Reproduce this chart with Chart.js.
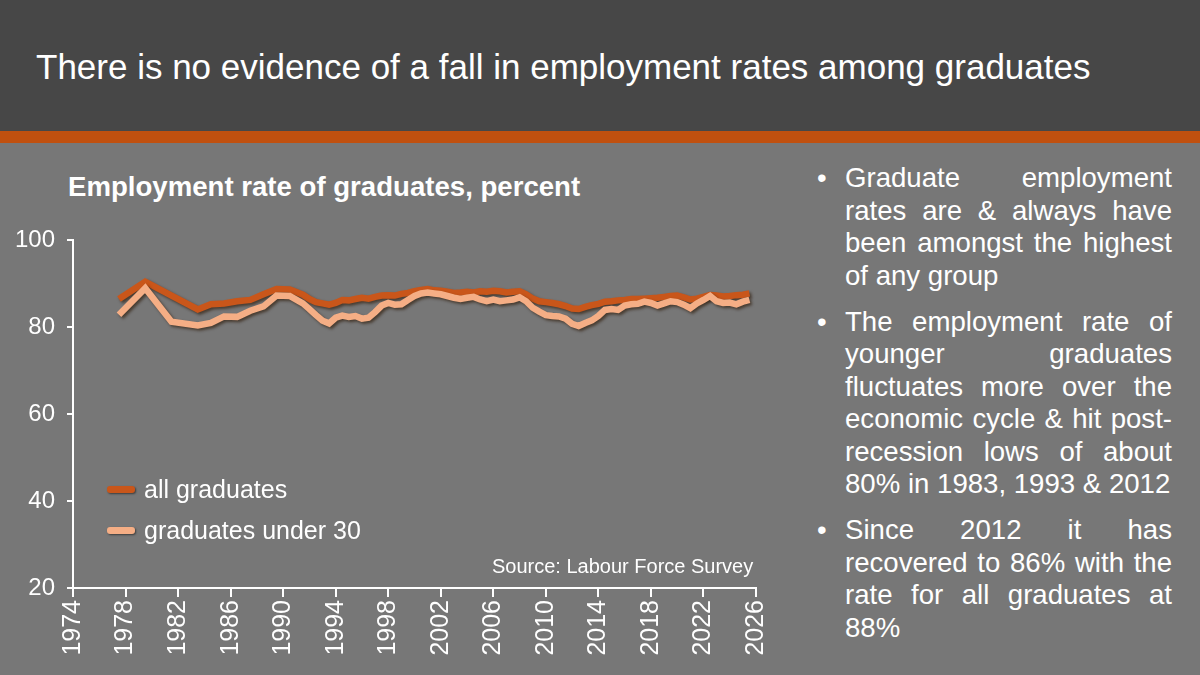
<!DOCTYPE html>
<html>
<head>
<meta charset="utf-8">
<script src="https://cdn.jsdelivr.net/npm/chart.js@4.4.1/dist/chart.umd.min.js"></script>
<style>
  body { margin: 0; width: 1200px; height: 675px; background: #777777; font-family: "Liberation Sans", Arial, sans-serif; overflow: hidden; position: relative; }
  #header { position: absolute; left: 0; top: 0; width: 1200px; height: 131px; background: #474747; }
  #band { position: absolute; left: 0; top: 131px; width: 1200px; height: 12px; background: #C0500F; }
  #title { position: absolute; left: 36px; top: 49px; color: #fff; font-size: 35px; line-height: 1; white-space: nowrap; }
  #ctitle { position: absolute; left: 68px; top: 173px; color: #fff; font-size: 27.6px; line-height: 1; font-weight: bold; white-space: nowrap; }
  #wrap { position: absolute; left: 0; top: 214px; width: 790px; height: 461px; }
  #legend { position: absolute; left: 107px; top: 469px; color: #fff; font-size: 25px; }
  #legend div { height: 41px; display: flex; align-items: center; }
  #legend span.sw { display: inline-block; width: 28px; height: 7px; border-radius: 3px; margin-right: 9px; box-shadow: 1px 1px 2px rgba(0,0,0,0.5); }
  #source { position: absolute; left: 492px; top: 556px; color: #fff; font-size: 20px; line-height: 1; white-space: nowrap; }
  #notes { position: absolute; left: 817px; top: 162px; width: 355px; color: #fff; font-size: 27.6px; line-height: 32.5px; }
  #notes p { margin: 0 0 13.5px 0; padding-left: 28px; text-indent: -28px; text-align: justify; }
  #notes p b { display: inline-block; width: 28px; text-indent: 0; font-weight: normal; }
</style>
</head>
<body>
<div id="header"></div>
<div id="band"></div>
<div id="title">There is no evidence of a fall in employment rates among graduates</div>
<div id="ctitle">Employment rate of graduates, percent</div>
<div id="wrap"><canvas id="myChart" width="790" height="461"></canvas></div>
<div id="legend">
  <div><span class="sw" style="background:#C9561A"></span>all graduates</div>
  <div><span class="sw" style="background:#F5AE85"></span>graduates under 30</div>
</div>
<div id="source">Source: Labour Force Survey</div>
<div id="notes">
  <p><b>•</b>Graduate employment rates are &amp; always have been amongst the highest of any group</p>
  <p><b>•</b>The employment rate of younger graduates fluctuates more over the economic cycle &amp; hit post-recession lows of about 80% in 1983, 1993 &amp; 2012</p>
  <p><b>•</b>Since 2012 it has recovered to 86% with the rate for all graduates at 88%</p>
</div>
<script>
var years = [1977.5, 1979.5, 1981.5, 1983.5, 1984.5, 1985.5, 1986.5, 1987.5, 1988.5, 1989.5, 1990.5, 1991.5,
  1992.0, 1992.5, 1993.0, 1993.5, 1994.0, 1994.5, 1995.0, 1995.5, 1996.0, 1996.5, 1997.0, 1997.5,
  1998.0, 1998.5, 1999.0, 1999.5, 2000.0, 2000.5, 2001.0, 2001.5, 2002.0, 2002.5, 2003.0, 2003.5,
  2004.0, 2004.5, 2005.0, 2005.5, 2006.0, 2006.5, 2007.0, 2007.5, 2008.0, 2008.5, 2009.0, 2009.5,
  2010.0, 2010.5, 2011.0, 2011.5, 2012.0, 2012.5, 2013.0, 2013.5, 2014.0, 2014.5, 2015.0, 2015.5,
  2016.0, 2016.5, 2017.0, 2017.5, 2018.0, 2018.5, 2019.0, 2019.5, 2020.0, 2020.5, 2021.0, 2021.5,
  2022.0, 2022.5, 2023.0, 2023.5, 2024.0, 2024.5, 2025.0, 2025.5];

var allGraduates = [86.5, 90.5, 87.3, 84.1, 85.3, 85.5, 86.0, 86.3, 87.6, 88.8, 88.7, 87.5,
  86.5, 85.8, 85.5, 85.2, 85.6, 86.3, 86.2, 86.5, 86.8, 86.6, 87.0, 87.3,
  87.4, 87.3, 87.7, 87.9, 88.3, 88.6, 88.8, 88.5, 88.4, 88.2, 87.9, 88.0,
  88.2, 88.0, 88.3, 88.2, 88.4, 88.3, 88.0, 88.2, 88.3, 87.6, 86.6, 86.0,
  85.8, 85.6, 85.3, 84.9, 84.3, 84.2, 84.7, 85.1, 85.4, 85.9, 86.0, 86.2,
  86.3, 86.5, 86.5, 86.6, 86.7, 86.8, 87.0, 87.2, 87.3, 86.9, 86.4, 86.6,
  87.0, 87.4, 87.3, 87.1, 87.2, 87.4, 87.5, 87.8];

var under30 = [82.9, 89.0, 81.3, 80.4, 81.0, 82.5, 82.4, 83.8, 84.8, 87.3, 87.2, 85.5,
  84.2, 82.8, 81.5, 80.9, 82.2, 82.7, 82.4, 82.6, 82.0, 82.2, 83.5, 85.0,
  85.6, 85.2, 85.3, 86.3, 87.2, 87.8, 88.0, 87.8, 87.6, 87.2, 86.8, 86.5,
  86.8, 87.0, 86.4, 86.0, 86.4, 86.0, 86.2, 86.4, 86.9, 86.0, 84.5, 83.6,
  82.8, 82.6, 82.5, 82.0, 80.8, 80.3, 81.0, 81.6, 82.6, 84.0, 84.2, 84.0,
  85.0, 85.3, 85.4, 85.9, 85.6, 85.0, 85.5, 86.0, 85.8, 85.2, 84.4, 85.5,
  86.3, 87.2, 86.0, 85.6, 85.7, 85.3, 85.9, 86.3];

var yTicks = [20, 40, 60, 80, 100];

function toPoints(vals) {
  return vals.map(function (v, i) { return { x: years[i], y: v }; });
}

// soft drop shadow under each line, like the slide
var shadowPlugin = {
  id: "shadow",
  beforeDatasetDraw: function (chart) {
    var c = chart.ctx;
    c.save();
    c.shadowColor = "rgba(40,20,0,0.6)";
    c.shadowBlur = 3;
    c.shadowOffsetX = 2;
    c.shadowOffsetY = 2;
  },
  afterDatasetDraw: function (chart) {
    chart.ctx.restore();
  }
};

var ctx = document.getElementById("myChart").getContext("2d");
var chart = new Chart(ctx, {
  type: "line",
  data: {
    datasets: [
      {
        label: "all graduates",
        data: toPoints(allGraduates),
        borderColor: "#C9561A",
        borderWidth: 6.5,
        pointRadius: 0,
        tension: 0,
        order: 2
      },
      {
        label: "graduates under 30",
        data: toPoints(under30),
        borderColor: "#F5AE85",
        borderWidth: 6.5,
        pointRadius: 0,
        tension: 0,
        order: 1
      }
    ]
  },
  plugins: [shadowPlugin],
  options: {
    responsive: false,
    animation: false,
    layout: { padding: { top: 13, right: 34, left: 0, bottom: 0 } },
    plugins: { legend: { display: false }, tooltip: { enabled: false } },
    scales: {
      x: {
        type: "linear",
        min: 1974,
        max: 2026,
        afterFit: function (s) { s.height = 87; },
        ticks: {
          stepSize: 4,
          minRotation: 90,
          maxRotation: 90,
          color: "#fff",
          padding: 3,
          font: { family: "Liberation Sans", size: 25 },
          callback: function (v) { return String(v); }
        },
        grid: { drawOnChartArea: false, color: "#fff", lineWidth: 2, tickLength: 9 },
        border: { color: "#fff", width: 2 }
      },
      y: {
        min: 20,
        max: 100,
        afterFit: function (s) { s.width = 73; },
        afterBuildTicks: function (s) { s.ticks = yTicks.map(function (v) { return { value: v }; }); },
        ticks: {
          color: "#fff",
          padding: 12,
          font: { family: "Liberation Sans", size: 24 }
        },
        grid: { drawOnChartArea: false, color: "#fff", lineWidth: 2, tickLength: 6 },
        border: { color: "#fff", width: 2 }
      }
    }
  }
});
</script>
</body>
</html>
